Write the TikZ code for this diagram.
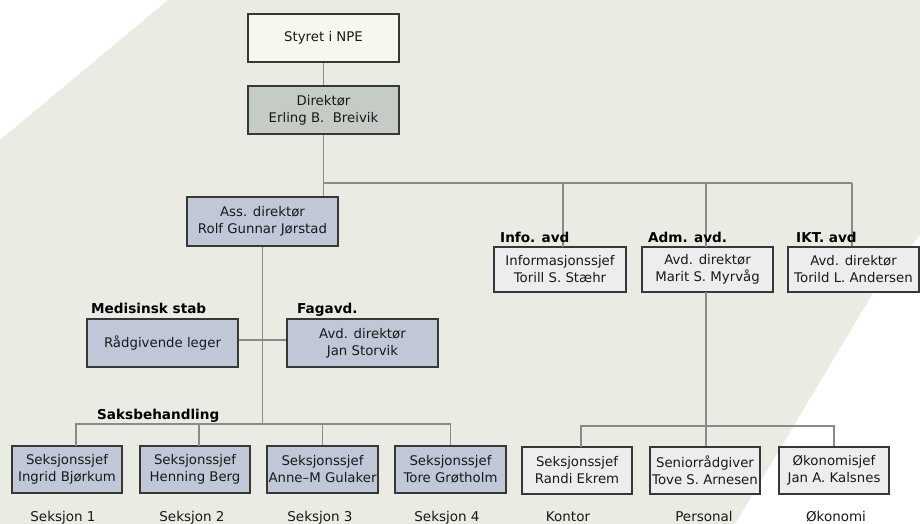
\documentclass[tikz,border=0pt]{standalone}
\usepackage{fontspec}
\setmainfont{DejaVu Sans}
\definecolor{bgband}{RGB}{234,236,228}
\definecolor{boxline}{RGB}{55,55,55}
\definecolor{conn}{RGB}{138,138,138}
\definecolor{topfill}{RGB}{246,248,238}
\definecolor{dirfill}{RGB}{196,204,197}
\definecolor{bluefill}{RGB}{192,200,215}
\definecolor{grayfill}{RGB}{237,237,237}
\definecolor{txt}{RGB}{25,25,25}
\tikzset{
  orgbox/.style={draw=boxline, line width=1.4pt, align=center, inner sep=0pt,
    text=txt, font=\fontsize{13.3}{17}\selectfont},
  widebox/.style={orgbox, minimum width=151pt, minimum height=48pt},
  smallbox/.style={orgbox, minimum width=110pt, minimum height=47pt},
  midbox/.style={orgbox, minimum width=131pt, minimum height=45pt, fill=grayfill},
  bluebox/.style={fill=bluefill},
  lightbox/.style={fill=grayfill},
  grouplabel/.style={anchor=base west, inner sep=0pt, font=\fontsize{13.6}{15}\selectfont\bfseries},
  footlabel/.style={anchor=base, inner sep=0pt, text=txt, font=\fontsize{13.5}{15}\selectfont},
  link/.style={draw=conn, line width=1.2pt}
}
\begin{document}
\begin{tikzpicture}[x=1pt, y=-1pt]
\useasboundingbox (0,0) rectangle (920,524);
\fill[white] (0,0) rectangle (920,524);
\fill[bgband] (168,0) -- (920,0) -- (920,235) -- (873,293) -- (735,524) -- (0,524) -- (0,140) -- cycle;

\coordinate (hub) at (323.5,183);
\coordinate (sakbar) at (262.5,424);
\coordinate (admbar) at (706,426);

% boxes
\node[widebox, fill=topfill] (styret) at (323.5,38) {Styret i NPE};
\node[widebox, fill=dirfill] (dir) at (323.5,110) {Direktør\\Erling B.\ \ Breivik};
\node[widebox, bluebox, minimum height=49pt] (ass) at (262.5,221.5) {Ass. direktør\\Rolf Gunnar Jørstad};
\node[midbox, minimum width=132pt] (info) at (560,269.5) {Informasjonssjef\\Torill S. Stæhr};
\node[midbox] (adm) at (707.5,269.5) {Avd. direktør\\Marit S. Myrvåg};
\node[midbox] (ikt) at (853.5,269.5) {Avd. direktør\\Torild L. Andersen};
\node[widebox, bluebox] (rad) at (162.5,343) {Rådgivende leger};
\node[widebox, bluebox] (fag) at (362.5,343) {Avd. direktør\\Jan Storvik};
\node[smallbox, bluebox] (s1) at (67,469.5) {Seksjonssjef\\Ingrid Bjørkum};
\node[smallbox, bluebox] (s2) at (195,469.5) {Seksjonssjef\\Henning Berg};
\node[smallbox, bluebox, minimum width=111pt] (s3) at (322.5,469.5) {Seksjonssjef\\Anne–M Gulaker};
\node[smallbox, bluebox, minimum width=111pt] (s4) at (450.5,469.5) {Seksjonssjef\\Tore Grøtholm};
\node[smallbox, lightbox] (kon) at (577,470.5) {Seksjonssjef\\Randi Ekrem};
\node[smallbox, lightbox] (per) at (705,470.5) {Seniorrådgiver\\Tove S. Arnesen};
\node[smallbox, lightbox] (oko) at (834,470.5) {Økonomisjef\\Jan A. Kalsnes};

% connectors
\draw[link] (styret.south) -- (dir.north);
\draw[link] (dir.south) -- (dir.south |- ass.north);
\draw[link] (hub) -- (852,183) coordinate (hubend);
\draw[link] (563,183) -- (563,247);
\draw[link] (706,183) -- (706,247);
\draw[link] (hubend) -- (hubend |- ikt.north);
\draw[link] (ass.south) -- (sakbar);
\draw[link] (rad.east |- 0,340) -- (fag.west |- 0,340);
\draw[link] (76,446) |- (sakbar) -| (s4.north);
\draw[link] (199,446) -- (199,424);
\draw[link] (s3.north) -- (s3.north |- sakbar);
\draw[link] (706,292) -- (admbar);
\draw[link] (581,447) |- (oko.north |- admbar) -- (oko.north);
\draw[link] (per.north -| admbar) -- (admbar);

% group labels
\node[grouplabel] (linfo) at (500,242) {Info. avd};
\node[grouplabel] (ladm) at (648,242) {Adm. avd.};
\node[grouplabel] (likt) at (796,242) {IKT. avd};
\node[grouplabel] (lmed) at (91,313) {Medisinsk stab};
\node[grouplabel] (lfag) at (297,313) {Fagavd.};
\node[grouplabel] (lsak) at (97,419) {Saksbehandling};

% footer labels
\node[footlabel] (f1) at (63,521) {Seksjon 1};
\node[footlabel] (f2) at (192,521) {Seksjon 2};
\node[footlabel] (f3) at (320,521) {Seksjon 3};
\node[footlabel] (f4) at (447,521) {Seksjon 4};
\node[footlabel] (f5) at (568,521) {Kontor};
\node[footlabel] (f6) at (704,521) {Personal};
\node[footlabel] (f7) at (836,521) {Økonomi};
\end{tikzpicture}
\end{document}
